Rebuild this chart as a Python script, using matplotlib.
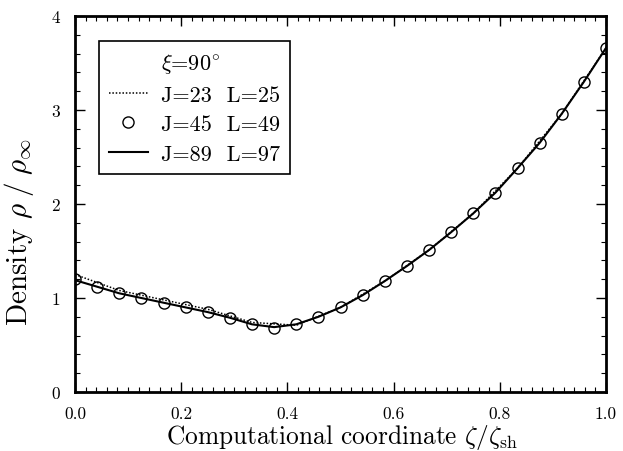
import matplotlib
matplotlib.use("Agg")
import matplotlib.pyplot as plt
from matplotlib.lines import Line2D
from matplotlib.ticker import MultipleLocator

plt.rcParams['font.family'] = 'serif'
plt.rcParams['font.serif'] = ['cmr10', 'DejaVu Serif']
plt.rcParams['mathtext.fontset'] = 'cm'
plt.rcParams['axes.formatter.use_mathtext'] = True

# Data
x_mid = [i / 24 for i in range(25)]
rho_mid = [1.20, 1.12, 1.05, 1.00, 0.95, 0.90, 0.855, 0.79, 0.72, 0.685, 0.72, 0.80, 0.90,
           1.03, 1.18, 1.34, 1.51, 1.70, 1.90, 2.12, 2.38, 2.65, 2.96, 3.30, 3.66]
x_fine = [i / 24 for i in range(25)]
rho_fine = [1.19, 1.12, 1.05, 1.00, 0.95, 0.90, 0.85, 0.79, 0.72, 0.69, 0.72, 0.80, 0.90,
            1.03, 1.18, 1.34, 1.51, 1.70, 1.90, 2.12, 2.38, 2.65, 2.96, 3.30, 3.66]
x_coarse = [i / 12 for i in range(13)]
rho_coarse = [1.25, 1.08, 0.98, 0.88, 0.74, 0.71, 0.90, 1.18, 1.51, 1.90, 2.38, 2.96, 3.66]

labels = [r"$\xi$=90$^{\circ}$", "J=23  L=25", "J=45  L=49", "J=89  L=97"]
xticks = [0.0, 0.2, 0.4, 0.6, 0.8, 1.0]
yticks = [0, 1, 2, 3, 4]

W, H = 623, 452
fig = plt.figure(figsize=(W / 100, H / 100), dpi=100)
ax_left, ax_right, ax_top, ax_bot = 75, 606, 17, 393
ax = fig.add_axes([ax_left / W, 1 - ax_bot / H, (ax_right - ax_left) / W, (ax_bot - ax_top) / H])

ax.plot(x_coarse, rho_coarse, linestyle=(0, (1, 1.2)), color='black', linewidth=1.1)
ax.plot(x_fine, rho_fine, linestyle='-', color='black', linewidth=1.5)
ax.plot(x_mid, rho_mid, linestyle='none', marker='o', markersize=8,
        markerfacecolor='none', markeredgecolor='black', markeredgewidth=1.0)

ax.set_xlim(0, 1)
ax.set_ylim(0, 4)
ax.set_xticks(xticks)
ax.set_xticklabels([f"{t:.1f}" for t in xticks])
ax.set_yticks(yticks)
ax.set_yticklabels([str(t) for t in yticks])
ax.xaxis.set_minor_locator(MultipleLocator(0.02))
ax.yaxis.set_minor_locator(MultipleLocator(0.2))
ax.tick_params(which='both', direction='in', top=True, right=True, labelsize=12.5)
ax.tick_params(axis='x', pad=9.5)
ax.tick_params(axis='y', pad=11)
ax.tick_params(which='major', length=7, width=1.0)
ax.tick_params(which='minor', length=3.5, width=0.8)
for s in ax.spines.values():
    s.set_linewidth(2.0)

axh = ax_bot - ax_top
axw = ax_right - ax_left

xl = ax.set_xlabel(r"Computational coordinate $\zeta/\zeta_{\rm sh}$", fontsize=19)
yl = ax.set_ylabel(r"Density $\rho\;/\;\rho_{\infty}$", fontsize=20)

# fit label sizes to the reference's extents (pixels)
fig.canvas.draw()
r = fig.canvas.get_renderer()
bw = xl.get_window_extent(r).width
xl.set_fontsize(19 * 352 / bw)
bh = yl.get_window_extent(r).height
yl.set_fontsize(20 * 188 / bh)

ax.xaxis.set_label_coords((342 - ax_left) / axw, 0)
ax.yaxis.set_label_coords((36 - ax_left) / axw, (ax_bot - 232) / axh)

# place the x label just below the tick labels, bottom inside the figure
fig.canvas.draw()
tick_bottom = min(t.get_window_extent(r).y0 for t in ax.get_xticklabels())
xl.set_verticalalignment('top')
top_px = tick_bottom - 1.5  # display coords (origin bottom-left)
ax_y0 = H - ax_bot
ax.xaxis.set_label_coords((342 - ax_left) / axw, (top_px - ax_y0) / axh)

handles = [
    Line2D([], [], linestyle='none'),
    Line2D([], [], linestyle=(0, (1, 1.2)), color='black', linewidth=1.1),
    Line2D([], [], linestyle='none', marker='o', markersize=8, markerfacecolor='none',
           markeredgecolor='black'),
    Line2D([], [], linestyle='-', color='black', linewidth=1.5),
]
leg = ax.legend(handles, labels, loc='upper left', bbox_to_anchor=(0.045, 0.9335),
                fontsize=16, frameon=True, fancybox=False, edgecolor='black',
                framealpha=1, handlelength=1.75, handletextpad=0.6,
                borderpad=0.45, labelspacing=0.45, borderaxespad=0)
leg.get_frame().set_linewidth(1.2)

fig.savefig("out.png", dpi=100)
